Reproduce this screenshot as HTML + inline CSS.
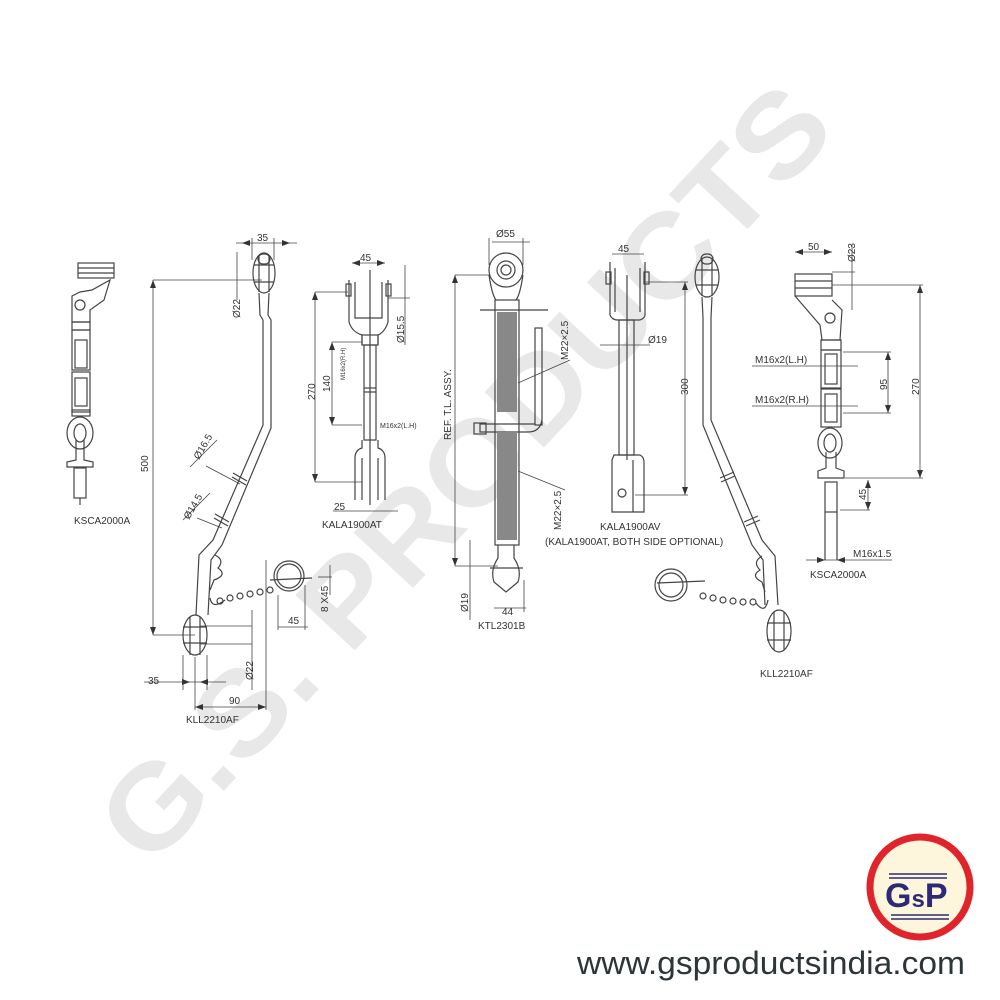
<!DOCTYPE html>
<html><head><meta charset="utf-8"><style>
html,body{margin:0;padding:0;background:#fff;}
svg{display:block;}
text{font-family:"Liberation Sans",sans-serif;fill:#333;}
</style></head><body>
<svg width="1000" height="1000" viewBox="0 0 1000 1000" xmlns="http://www.w3.org/2000/svg">
<rect width="1000" height="1000" fill="#fff"/>
<!-- watermark -->
<text x="0" y="0" transform="translate(150,870) rotate(-47)" font-size="118" font-weight="bold" style="fill:#e8e8e8" textLength="1010" lengthAdjust="spacingAndGlyphs">G.S. PRODUCTS</text>

<g fill="none" stroke="#444" stroke-width="1.2">
<!-- KSCA2000A left -->
<rect x="78" y="263" width="36" height="15"/>
<line x1="78" y1="268" x2="114" y2="268"/><line x1="78" y1="273" x2="114" y2="273"/>
<path d="M72 296 L80 292 L92 290 L110 280 L104 300 L90 310 L90 322 L72 322 Z"/>
<circle cx="80" cy="305" r="5"/>
<rect x="72" y="322" width="18" height="8"/>
<rect x="72" y="330" width="18" height="40"/><rect x="75" y="340" width="12" height="28"/>
<rect x="72" y="372" width="18" height="40"/><rect x="75" y="378" width="12" height="28"/>
<rect x="72" y="410" width="18" height="6"/>
<ellipse cx="80" cy="433" rx="13" ry="16"/><ellipse cx="80" cy="433" rx="6" ry="9"/>
<path d="M76 440 L76 460 L67 462 L67 467 L93 467 L93 462 L84 460 L84 440"/>
<rect x="74" y="468" width="12" height="30"/>
<line x1="80" y1="498" x2="80" y2="505"/>

<!-- KLL2210AF left -->
<ellipse cx="264" cy="273" rx="11" ry="20"/>
<rect x="258" y="254" width="12" height="10" rx="5"/>
<line x1="254" y1="265" x2="274" y2="265"/><line x1="254" y1="282" x2="274" y2="282"/>
<line x1="259" y1="256" x2="259" y2="292"/><line x1="269" y1="256" x2="269" y2="292"/>
<path d="M259 293 L260 315 L263 320 L263 425 L213 540 L199 555 L196 615"/>
<path d="M269 293 L268 315 L271 320 L271 428 L222 545 L211 560 L208 615"/>
<line x1="233" y1="473" x2="247" y2="481"/><line x1="232" y1="477" x2="246" y2="485"/>
<line x1="215" y1="514" x2="229" y2="522"/><line x1="214" y1="518" x2="228" y2="526"/>
<path d="M215 555 Q225 560 218 568 Q228 575 214 580 L210 590"/>
<ellipse cx="195" cy="635" rx="12" ry="20"/>
<line x1="183" y1="627" x2="207" y2="627"/><line x1="183" y1="643" x2="207" y2="643"/>
<line x1="190" y1="617" x2="190" y2="655"/><line x1="200" y1="617" x2="200" y2="655"/>
<circle cx="289" cy="576" r="15"/><circle cx="289" cy="576" r="12"/>
<line x1="270" y1="580" x2="312" y2="578"/>
<path d="M210 598 Q212 610 225 600"/>
<circle cx="220" cy="601" r="3"/><circle cx="230" cy="598" r="3"/><circle cx="240" cy="596" r="3"/><circle cx="250" cy="594" r="3"/><circle cx="260" cy="592" r="3"/><circle cx="270" cy="590" r="3"/>
<g stroke-width="0.8">
<line x1="153" y1="280" x2="153" y2="635"/><line x1="153" y1="280" x2="262" y2="280"/><line x1="153" y1="635" x2="195" y2="635"/>
<line x1="236" y1="243" x2="297" y2="243"/><line x1="252" y1="238" x2="252" y2="260"/><line x1="274" y1="238" x2="274" y2="260"/>
<line x1="237" y1="252" x2="237" y2="300"/>
<line x1="266" y1="560" x2="266" y2="710"/>
<line x1="144" y1="682" x2="226" y2="682"/><line x1="183" y1="655" x2="183" y2="690"/><line x1="207" y1="655" x2="207" y2="690"/>
<line x1="195" y1="657" x2="195" y2="710"/><line x1="195" y1="707" x2="266" y2="707"/>
<line x1="252" y1="610" x2="252" y2="690"/><line x1="200" y1="626" x2="252" y2="626"/><line x1="200" y1="644" x2="252" y2="644"/>
<line x1="278" y1="627" x2="308" y2="627"/><line x1="278" y1="595" x2="278" y2="630"/><line x1="305" y1="585" x2="305" y2="630"/>
<line x1="330" y1="565" x2="330" y2="595"/><line x1="318" y1="577" x2="332" y2="577"/>
<line x1="190" y1="467" x2="217" y2="440"/><line x1="206" y1="466" x2="240" y2="484"/><line x1="183" y1="520" x2="210" y2="493"/><line x1="197" y1="518" x2="222" y2="528"/>
</g>
<g stroke="none" fill="#333">
<path d="M153 280 l-3 8 h6z M153 635 l-3 -8 h6z M242 243 l8 -3 v6z M290 243 l-8 -3 v6z M190 682 l-8 -3 v6z M200 682 l8 -3 v6z M195 707 l8 -3 v6z M266 707 l-8 -3 v6z"/>
</g>

<!-- KALA1900AT -->
<path d="M349 280 L349 322 Q352 332 362 335 L362 345 M388 280 L388 322 Q385 332 378 335 L378 345"/>
<path d="M355 282 L355 318 L382 318 L382 282"/>
<rect x="346" y="284" width="5" height="12"/><rect x="386" y="284" width="5" height="12"/>
<rect x="362" y="335" width="16" height="10"/>
<rect x="364" y="345" width="12" height="95"/>
<line x1="364" y1="388" x2="376" y2="388"/><line x1="364" y1="392" x2="376" y2="392"/>
<path d="M362 440 L362 448 Q355 450 355 458 L355 500 M378 440 L378 448 Q385 450 385 458 L385 500 M362 458 L362 500 M378 458 L378 500"/>
<line x1="370" y1="270" x2="370" y2="505"/>
<g stroke-width="0.8">
<line x1="315" y1="292" x2="315" y2="482"/><line x1="315" y1="292" x2="348" y2="292"/><line x1="315" y1="482" x2="362" y2="482"/>
<line x1="332" y1="342" x2="332" y2="425"/><line x1="332" y1="342" x2="362" y2="342"/><line x1="332" y1="425" x2="362" y2="425"/>
<line x1="352" y1="263" x2="385" y2="263"/>
<line x1="405" y1="265" x2="405" y2="345"/><line x1="388" y1="298" x2="410" y2="298"/>
<line x1="333" y1="511" x2="398" y2="511"/>
</g>
<g stroke="none" fill="#333"><path d="M315 292 l-3 8 h6z M315 482 l-3 -8 h6z M332 342 l-3 8 h6z M332 425 l-3 -8 h6z M352 263 l8 -3 v6z M385 263 l-8 -3 v6z"/></g>

<!-- KTL2301B -->
<circle cx="506" cy="270" r="17"/><circle cx="506" cy="270" r="9"/><circle cx="506" cy="270" r="5"/>
<path d="M489 275 Q492 295 496 300 M523 275 Q520 295 516 300"/>
<rect x="495" y="300" width="24" height="245"/>
<line x1="480" y1="310" x2="548" y2="310"/>
<rect x="535" y="328" width="7" height="97"/>
<path d="M542 420 Q540 432 528 432 L480 432 L480 424 L535 424"/>
<rect x="474" y="423" width="12" height="11"/>
<path d="M498 545 L498 558 Q490 570 494 582 L506 592 L518 582 Q522 570 514 558 L514 545"/>
<line x1="490" y1="568" x2="523" y2="568"/>
<g stroke-width="0.8">
<line x1="455" y1="275" x2="455" y2="566"/><line x1="455" y1="275" x2="490" y2="275"/><line x1="455" y1="566" x2="498" y2="566"/>
<line x1="470" y1="540" x2="470" y2="620"/>
<line x1="492" y1="242" x2="530" y2="242"/><line x1="489" y1="238" x2="489" y2="265"/><line x1="523" y1="238" x2="523" y2="265"/>
<line x1="494" y1="608" x2="526" y2="608"/><line x1="524" y1="580" x2="524" y2="612"/>
<line x1="518" y1="383" x2="570" y2="360"/><line x1="518" y1="471" x2="565" y2="490"/>
</g>
<g stroke="none" fill="#333"><path d="M455 275 l-3 8 h6z M455 566 l-3 -8 h6z"/></g>
</g>
<rect x="497" y="312" width="20" height="100" fill="#888"/>
<rect x="497" y="432" width="20" height="108" fill="#888"/>

<g fill="none" stroke="#444" stroke-width="1.2">
<!-- KALA1900AV -->
<path d="M610 262 L610 315 Q612 320 618 320 L640 320 Q645 318 645 315 L645 262"/>
<rect x="606" y="272" width="5" height="12"/><rect x="644" y="272" width="5" height="12"/>
<line x1="615" y1="268" x2="615" y2="312"/><line x1="640" y1="268" x2="640" y2="312"/>
<rect x="619" y="320" width="15" height="135"/>
<line x1="627" y1="275" x2="627" y2="460"/>
<path d="M614 455 L640 455 Q644 457 644 462 L644 512 L612 512 L612 460 Z"/>
<line x1="633" y1="460" x2="633" y2="512"/>
<circle cx="622" cy="493" r="4"/>
<g stroke-width="0.8">
<line x1="685" y1="282" x2="685" y2="495"/><line x1="645" y1="282" x2="688" y2="282"/><line x1="635" y1="495" x2="688" y2="495"/>
<line x1="612" y1="254" x2="644" y2="254"/><line x1="600" y1="345" x2="650" y2="345"/>
</g>
<g stroke="none" fill="#333"><path d="M685 282 l-3 8 h6z M685 495 l-3 -8 h6z"/></g>

<!-- KLL2210AF right -->
<ellipse cx="707" cy="277" rx="12" ry="20"/>
<rect x="701" y="254" width="12" height="10" rx="5"/>
<line x1="696" y1="270" x2="718" y2="270"/><line x1="696" y1="285" x2="718" y2="285"/>
<line x1="702" y1="258" x2="702" y2="296"/><line x1="712" y1="258" x2="712" y2="296"/>
<path d="M702 297 L703 318 L703 425 L752 545 L763 560 L765 605"/>
<path d="M712 297 L711 318 L711 420 L762 540 L775 556 L778 605"/>
<line x1="720" y1="478" x2="734" y2="472"/><line x1="721" y1="482" x2="735" y2="476"/>
<line x1="744" y1="522" x2="758" y2="516"/><line x1="746" y1="526" x2="760" y2="520"/>
<path d="M762 556 Q752 562 760 570 Q750 576 762 582 L765 592"/>
<ellipse cx="779" cy="631" rx="12" ry="21"/>
<line x1="767" y1="623" x2="791" y2="623"/><line x1="767" y1="640" x2="791" y2="640"/>
<line x1="774" y1="612" x2="774" y2="650"/><line x1="784" y1="612" x2="784" y2="650"/>
<circle cx="671" cy="585" r="16"/><circle cx="671" cy="585" r="12"/>
<line x1="657" y1="583" x2="705" y2="581"/>
<circle cx="703" cy="596" r="3"/><circle cx="713" cy="598" r="3"/><circle cx="723" cy="600" r="3"/><circle cx="733" cy="601" r="3"/><circle cx="743" cy="602" r="3"/><circle cx="753" cy="602" r="3"/>
<path d="M756 603 Q765 615 768 600"/>

<!-- KSCA2000A right -->
<rect x="795" y="274" width="37" height="22"/>
<line x1="795" y1="281" x2="832" y2="281"/><line x1="795" y1="288" x2="832" y2="288"/>
<path d="M795 296 L820 325 L822 340 L840 340 L842 310 L832 300"/>
<circle cx="830" cy="318" r="5"/>
<rect x="821" y="340" width="20" height="10"/>
<rect x="821" y="350" width="20" height="38"/><rect x="825" y="354" width="12" height="30"/>
<rect x="821" y="389" width="20" height="38"/><rect x="825" y="394" width="12" height="28"/>
<ellipse cx="830" cy="443" rx="12" ry="15"/><ellipse cx="830" cy="443" rx="6" ry="9"/>
<path d="M826 452 L826 468 L818 471 L818 478 L844 478 L844 471 L836 468 L836 452"/>
<rect x="825" y="482" width="12" height="30"/>
<line x1="825" y1="512" x2="825" y2="560"/><line x1="837" y1="512" x2="837" y2="560"/>
<g stroke-width="0.8">
<line x1="920" y1="285" x2="920" y2="478"/><line x1="832" y1="285" x2="923" y2="285"/><line x1="845" y1="478" x2="923" y2="478"/>
<line x1="888" y1="352" x2="888" y2="413"/><line x1="843" y1="352" x2="891" y2="352"/><line x1="843" y1="413" x2="891" y2="413"/>
<line x1="868" y1="480" x2="868" y2="510"/><line x1="840" y1="510" x2="870" y2="510"/>
<line x1="795" y1="252" x2="832" y2="252"/>
<line x1="852" y1="245" x2="852" y2="310"/><line x1="832" y1="272" x2="855" y2="272"/>
<line x1="752" y1="366" x2="858" y2="366"/><line x1="752" y1="406" x2="858" y2="406"/>
<line x1="806" y1="560" x2="892" y2="560"/>
</g>
<g stroke="none" fill="#333"><path d="M920 285 l-3 8 h6z M920 478 l-3 -8 h6z M888 352 l-3 8 h6z M888 413 l-3 -8 h6z M868 480 l-3 8 h6z M868 510 l-3 -8 h6z M795 252 l8 -3 v6z M832 252 l-8 -3 v6z M825 560 l-8 -3 v6z M837 560 l8 -3 v6z"/></g>
</g>

<!-- labels -->
<g font-size="10">
<text x="74" y="524">KSCA2000A</text>
<text x="186" y="723">KLL2210AF</text>
<text x="322" y="528">KALA1900AT</text>
<text x="478" y="629">KTL2301B</text>
<text x="600" y="530">KALA1900AV</text>
<text x="545" y="545">(KALA1900AT, BOTH SIDE OPTIONAL)</text>
<text x="760" y="677">KLL2210AF</text>
<text x="810" y="578">KSCA2000A</text>
<text x="257" y="241">35</text>
<text x="148" y="684">35</text>
<text x="229" y="704">90</text>
<text x="288" y="624">45</text>
<text x="360" y="261">45</text>
<text x="334" y="510">25</text>
<text x="618" y="252">45</text>
<text x="496" y="237">Ø55</text>
<text x="502" y="615">44</text>
<text x="648" y="343">Ø19</text>
<text x="808" y="250">50</text>
<text x="755" y="363">M16x2(L.H)</text>
<text x="755" y="403">M16x2(R.H)</text>
<text x="853" y="557">M16x1.5</text>
<text x="380" y="428" font-size="7">M16x2(L.H)</text>
<text transform="translate(148,472) rotate(-90)">500</text>
<text transform="translate(240,318) rotate(-90)">Ø22</text>
<text transform="translate(253,680) rotate(-90)">Ø22</text>
<text transform="translate(199,460) rotate(-60)">Ø16.5</text>
<text transform="translate(189,520) rotate(-60)">Ø14.5</text>
<text transform="translate(328,612) rotate(-90)">8 X45</text>
<text transform="translate(315,400) rotate(-90)">270</text>
<text transform="translate(330,392) rotate(-90)">140</text>
<text transform="translate(345,380) rotate(-90)" font-size="6">M16x2(R.H)</text>
<text transform="translate(404,343) rotate(-90)">Ø15.5</text>
<text transform="translate(451,440) rotate(-90)">REF. T.L. ASSY.</text>
<text transform="translate(468,612) rotate(-90)">Ø19</text>
<text transform="translate(568,360) rotate(-90)">M22×2.5</text>
<text transform="translate(561,530) rotate(-90)">M22×2.5</text>
<text transform="translate(688,395) rotate(-90)">300</text>
<text transform="translate(855,262) rotate(-90)">Ø23</text>
<text transform="translate(887,390) rotate(-90)">95</text>
<text transform="translate(919,395) rotate(-90)">270</text>
<text transform="translate(866,500) rotate(-90)">45</text>
</g>

<!-- logo -->
<circle cx="920" cy="887" r="50" fill="#fdf6dc" stroke="#e0242b" stroke-width="7"/>
<line x1="889" y1="874" x2="947" y2="874" stroke="#2c2a78" stroke-width="1.5"/>
<line x1="889" y1="878" x2="947" y2="878" stroke="#2c2a78" stroke-width="1.5"/>
<line x1="891" y1="915" x2="949" y2="915" stroke="#2c2a78" stroke-width="1.5"/>
<line x1="891" y1="919" x2="949" y2="919" stroke="#2c2a78" stroke-width="1.5"/>
<text x="885" y="907" font-family="Liberation Serif,serif" font-size="34" font-weight="bold" style="fill:#2c2a78">G<tspan font-size="24">s</tspan>P</text>
<text x="577" y="974" font-size="32" textLength="388" lengthAdjust="spacingAndGlyphs" style="fill:#2d3538">www.gsproductsindia.com</text>
</svg>
</body></html>
